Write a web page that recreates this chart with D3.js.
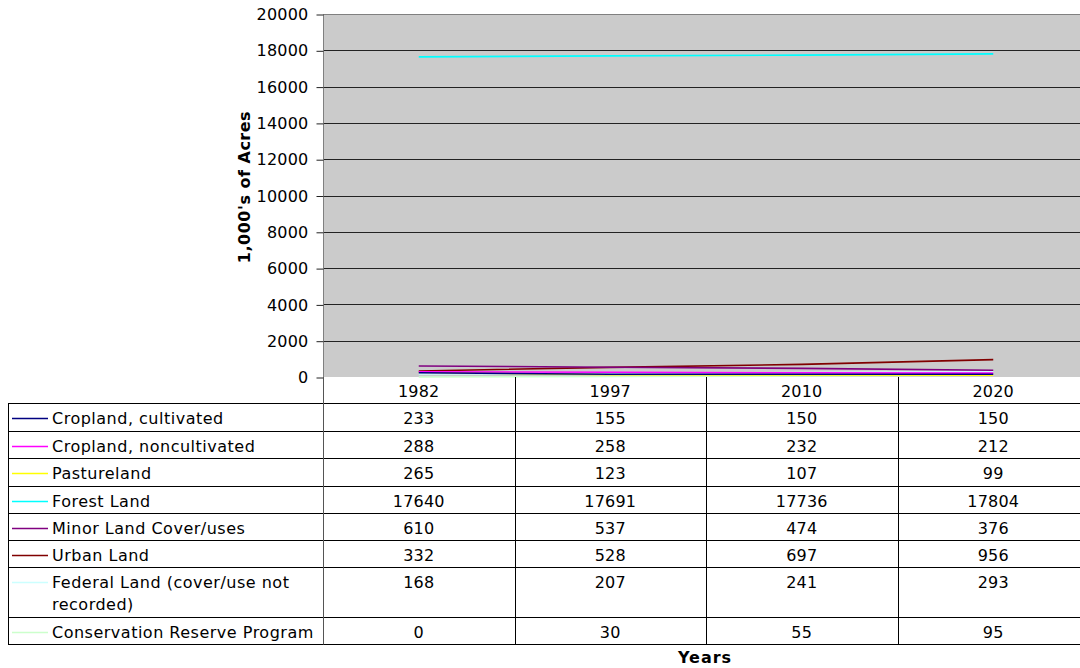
<!DOCTYPE html>
<html>
<head>
<meta charset="utf-8">
<script src="https://cdn.jsdelivr.net/npm/d3@7"></script>
<style>
  html, body { margin: 0; padding: 0; background: #fff; }
  svg { display: block; font-family: "DejaVu Sans", Verdana, sans-serif; }
</style>
</head>
<body>
<svg id="chart" width="1080" height="668"></svg>
<script>
// Land cover / use, 1,000's of acres
const years = ["1982", "1997", "2010", "2020"];
const seriesNames = [
  "Cropland, cultivated",
  "Cropland, noncultivated",
  "Pastureland",
  "Forest Land",
  "Minor Land Cover/uses",
  "Urban Land",
  "Federal Land (cover/use not recorded)",
  "Conservation Reserve Program"
];
const croplandCultivated = [233, 155, 150, 150];
const croplandNoncultivated = [288, 258, 232, 212];
const pastureland = [265, 123, 107, 99];
const forestLand = [17640, 17691, 17736, 17804];
const minorLand = [610, 537, 474, 376];
const urbanLand = [332, 528, 697, 956];
const federalLand = [168, 207, 241, 293];
const conservationReserve = [0, 30, 55, 95];
const yTicks = [0, 2000, 4000, 6000, 8000, 10000, 12000, 14000, 16000, 18000, 20000];

const seriesColors = ["#000080", "#FF00FF", "#FFFF00", "#00FFFF", "#800080", "#800000", "#CCFFFF", "#CCFFCC"];
const seriesValues = [croplandCultivated, croplandNoncultivated, pastureland, forestLand,
                      minorLand, urbanLand, federalLand, conservationReserve];
const series = seriesNames.map((name, i) => ({ name, color: seriesColors[i], values: seriesValues[i] }));

const svg = d3.select("#chart");
const plot = { left: 323, right: 1089, top: 14, bottom: 377 };
const FONT = 16;

const x = d3.scaleBand().domain(years).range([plot.left, plot.right]);
const y = d3.scaleLinear().domain([0, 20000]).range([plot.bottom, plot.top]);

// plot background
svg.append("rect")
  .attr("x", plot.left).attr("y", plot.top)
  .attr("width", plot.right - plot.left).attr("height", plot.bottom - plot.top)
  .attr("fill", "#cbcbcb");

// gridlines
svg.append("g").selectAll("line")
  .data(yTicks.filter(t => t > 0))
  .join("line")
  .attr("x1", plot.left).attr("x2", plot.right)
  .attr("y1", d => Math.round(y(d)) + 0.5).attr("y2", d => Math.round(y(d)) + 0.5)
  .attr("stroke", d => d === 20000 ? "#808080" : "#222")
  .attr("stroke-width", 1);

// y axis
const yAxis = svg.append("g")
  .attr("transform", `translate(${plot.left + 0.5},0.5)`)
  .call(d3.axisLeft(y).tickValues(yTicks).tickSize(7).tickPadding(8).tickFormat(d3.format("d")));
yAxis.select(".domain").attr("stroke", "#808080").attr("d", `M0,${plot.top}V${plot.bottom}`);
yAxis.selectAll(".tick line").attr("stroke", "#222");
yAxis.selectAll(".tick text")
  .attr("fill", "#000")
  .style("font-family", '"DejaVu Sans", Verdana, sans-serif')
  .style("font-size", FONT + "px")
  .style("letter-spacing", "0.2px");

// axis title
svg.append("text")
  .attr("transform", `translate(250,${187}) rotate(-90)`)
  .attr("text-anchor", "middle")
  .style("font-weight", "bold")
  .style("font-size", FONT + "px")
  .style("letter-spacing", "0.5px")
  .text("1,000's of Acres");

// lines
const line = d3.line()
  .x((d, i) => x(years[i]) + x.bandwidth() / 2)
  .y(d => y(d));

svg.append("g")
  .selectAll("path")
  .data(series.slice().reverse())
  .join("path")
  .attr("d", d => line(d.values))
  .attr("fill", "none")
  .attr("stroke", d => d.color)
  .attr("stroke-width", 1.6);

// data table
const tableLeft = 8;
const headerBottom = 403;
const rowBounds = [403, 431, 458, 486, 513, 540, 567, 617, 644];

const table = svg.append("g").attr("class", "data-table");

// header year labels
table.selectAll("text.year")
  .data(years)
  .join("text")
  .attr("class", "year")
  .attr("x", d => x(d) + x.bandwidth() / 2)
  .attr("y", 397)
  .attr("text-anchor", "middle")
  .style("font-size", FONT + "px")
  .style("letter-spacing", "0.2px")
  .text(d => d);

// horizontal rules
table.selectAll("line.h")
  .data(rowBounds)
  .join("line")
  .attr("class", "h")
  .attr("x1", tableLeft).attr("x2", plot.right)
  .attr("y1", d => d + 0.5).attr("y2", d => d + 0.5)
  .attr("stroke", "#000");

// vertical rules
table.append("line")
  .attr("x1", tableLeft + 0.5).attr("x2", tableLeft + 0.5)
  .attr("y1", headerBottom).attr("y2", 644.5)
  .attr("stroke", "#000");
table.selectAll("line.v")
  .data(years)
  .join("line")
  .attr("class", "v")
  .attr("x1", d => Math.round(x(d)) + 0.5).attr("x2", d => Math.round(x(d)) + 0.5)
  .attr("y1", plot.bottom).attr("y2", 644.5)
  .attr("stroke", d => d === years[0] ? "#555" : "#000");

const rows = table.selectAll("g.row")
  .data(series)
  .join("g")
  .attr("class", "row")
  .attr("transform", (d, i) => `translate(0,${rowBounds[i]})`);

// legend keys
rows.append("line")
  .attr("x1", 12).attr("x2", 48)
  .attr("y1", 15.5).attr("y2", 15.5)
  .attr("stroke", d => d.color)
  .attr("stroke-width", 1.5);

// series names (long names wrap onto a second line)
rows.each(function (d) {
  const g = d3.select(this);
  const t = g.append("text")
    .attr("x", 52).attr("y", 21)
    .style("font-size", FONT + "px")
    .style("letter-spacing", "0.5px");
  if (d.name.startsWith("Federal")) {
    t.append("tspan").attr("x", 52).attr("dy", 0).text("Federal Land (cover/use not");
    t.append("tspan").attr("x", 52).attr("dy", 22).text("recorded)");
  } else {
    t.text(d.name);
  }
});

// values
rows.selectAll("text.val")
  .data(d => d.values)
  .join("text")
  .attr("class", "val")
  .attr("x", (v, i) => x(years[i]) + x.bandwidth() / 2)
  .attr("y", 21)
  .attr("text-anchor", "middle")
  .style("font-size", FONT + "px")
  .style("letter-spacing", "0.2px")
  .text(v => v);

// x axis title
svg.append("text")
  .attr("x", 705).attr("y", 663)
  .attr("text-anchor", "middle")
  .style("font-weight", "bold")
  .style("font-size", FONT + "px")
  .style("letter-spacing", "1px")
  .text("Years");
</script>
</body>
</html>
